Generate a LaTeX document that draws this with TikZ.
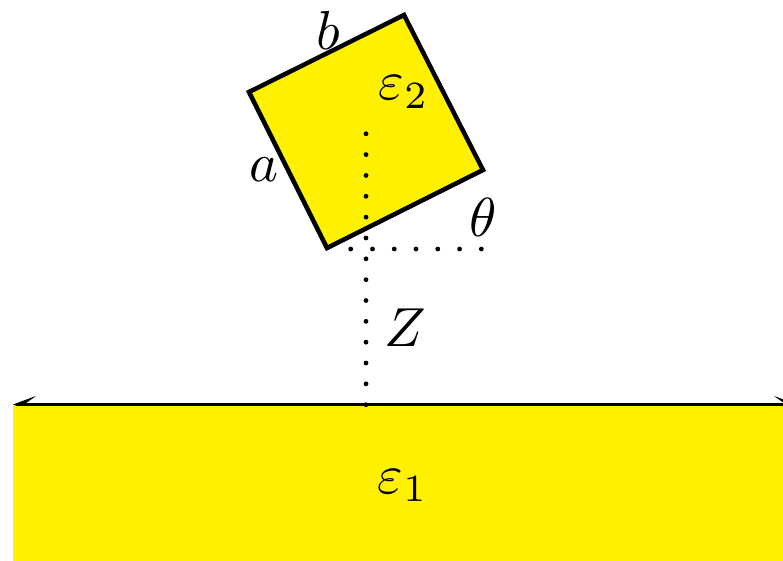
\documentclass[tikz,border=0pt]{standalone}
\usepackage{graphicx}
\usetikzlibrary{arrows.meta}
\definecolor{plate}{HTML}{FFF100}
\newcommand{\bigmath}[1]{\scalebox{5.5}{$#1$}}
\tikzset{sbarb/.tip={Stealth[length=23pt,width=17pt,inset=12pt]}}
\begin{document}
\begin{tikzpicture}[x=1pt,y=-1pt,
  lbl/.style={inner sep=0pt,anchor=base},
  dotline/.style={line width=4.8pt,line cap=round,dash pattern=on 0pt off #1pt}]
\useasboundingbox (0,0) rectangle (783,561);
% coordinates
\coordinate (L) at (13,404.5);
\coordinate (R) at (797,404.5);
\coordinate (c1) at (249,92);
\coordinate (c2) at (404,15);
\coordinate (c3) at (483,170);
\coordinate (c4) at (327,248);
\coordinate (v0) at (366,404.7);
\coordinate (v1) at (366,133.2);
\coordinate (h0) at (350.7,249);
\coordinate (h1) at (481.8,249);
% surface line with arrows
\draw[line width=3.3pt,sbarb-sbarb] (L) -- (R);
% medium 1
\fill[plate] (13,406) rectangle (790,570);
% rotated square
\draw[fill=plate,line width=4.5pt,line join=miter] (c1) -- (c2) -- (c3) -- (c4) -- cycle;
% dotted guides
\draw[dotline=20.84] (v0) -- (v1);
\draw[dotline=21.77] (h0) -- (h1);
% labels
\node[lbl] (lb) at (328,50) {\bigmath{b}};
\node[lbl] (la) at (264,182) {\bigmath{a}};
\node[lbl] (le2) at (404,100) {\bigmath{\varepsilon_2}};
\node[lbl] (lth) at (483,236) {\bigmath{\theta}};
\node[lbl] (lz) at (405,346) {\bigmath{Z}};
\node[lbl] (le1) at (403,493) {\bigmath{\varepsilon_1}};
\end{tikzpicture}
\end{document}
